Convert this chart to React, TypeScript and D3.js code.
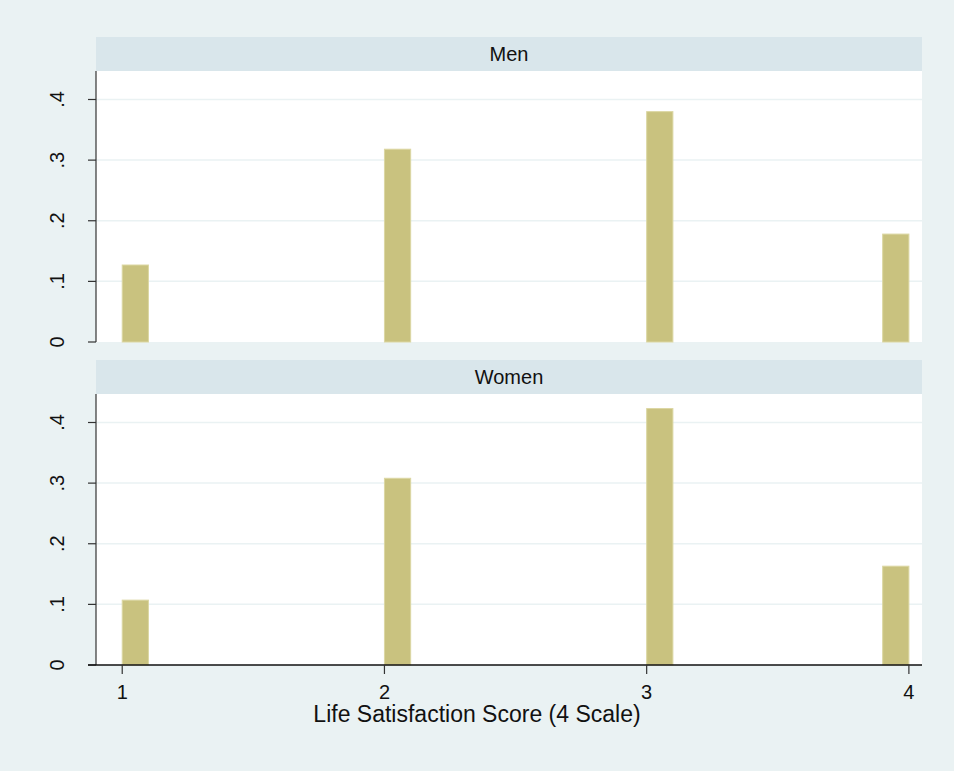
import React from "react";
import * as d3 from "d3";

const scores = [1, 2, 3, 4];
const binLeft = [1, 2, 3, 3.9];
const binWidth = 0.1;
const menValues = [0.127, 0.318, 0.38, 0.178];
const womenValues = [0.107, 0.308, 0.423, 0.163];
const yTicks = [0, 0.1, 0.2, 0.3, 0.4];
const yTickLabels = ["0", ".1", ".2", ".3", ".4"];
const panels = [
  { title: "Men", values: menValues },
  { title: "Women", values: womenValues },
];

const W = 954;
const H = 771;
const left = 96;
const right = 922;
const stripH = 34;
const panelTops = [37, 360];
const plotH = 271;
const font = "Liberation Sans, Arial, Helvetica, sans-serif";

export default function App() {
  const x = d3.scaleLinear().domain([0.9, 4.05]).range([left, right]);
  return (
    <svg
      width={W}
      height={H}
      style={{ position: "absolute", left: 0, top: 0 }}
      fontFamily={font}
    >
      <rect x={0} y={0} width={W} height={H} fill="#eaf2f3" />
      {panels.map((p, pi) => {
        const top = panelTops[pi];
        const plotTop = top + stripH;
        const plotBottom = plotTop + plotH;
        const y = d3.scaleLinear().domain([0, 0.447]).range([plotBottom, plotTop]);
        const isLast = pi === panels.length - 1;
        return (
          <g key={p.title}>
            <rect x={left} y={top} width={right - left} height={stripH} fill="#d9e6eb" />
            <text
              x={(left + right) / 2}
              y={top + stripH / 2 + 7}
              textAnchor="middle"
              fontSize={20}
              fill="#111"
            >
              {p.title}
            </text>
            <rect x={left} y={plotTop} width={right - left} height={plotH} fill="#ffffff" />
            {yTicks.filter((t) => t > 0).map((t) => (
              <line
                key={t}
                x1={left}
                x2={right}
                y1={y(t)}
                y2={y(t)}
                stroke="#eaf2f3"
                strokeWidth={1.5}
              />
            ))}
            {p.values.map((v, i) => (
              <rect
                key={i}
                x={x(binLeft[i])}
                y={y(v)}
                width={x(binLeft[i] + binWidth) - x(binLeft[i])}
                height={y(0) - y(v)}
                fill="#c9c27f"
                stroke="#dcd7a3"
                strokeWidth={1}
              />
            ))}
            <line x1={left} x2={left} y1={plotTop} y2={plotBottom} stroke="#333" strokeWidth={1.2} />
            {yTicks.map((t, i) => (
              <g key={t}>
                <line x1={left - 8} x2={left} y1={y(t)} y2={y(t)} stroke="#333" strokeWidth={1.2} />
                <text
                  transform={`translate(${64},${y(t)}) rotate(-90)`}
                  textAnchor="middle"
                  fontSize={20}
                  fill="#111"
                >
                  {yTickLabels[i]}
                </text>
              </g>
            ))}
            {isLast && (
              <g>
                <line x1={left - 8} x2={right} y1={plotBottom} y2={plotBottom} stroke="#111" strokeWidth={1.5} />
                {scores.map((s) => (
                  <g key={s}>
                    <line x1={x(s)} x2={x(s)} y1={plotBottom} y2={plotBottom + 9} stroke="#333" strokeWidth={1.2} />
                    <text x={x(s)} y={plotBottom + 34} textAnchor="middle" fontSize={20} fill="#111">
                      {s}
                    </text>
                  </g>
                ))}
                <text
                  x={W / 2}
                  y={plotBottom + 57}
                  textAnchor="middle"
                  fontSize={23}
                  fill="#111"
                >
                  Life Satisfaction Score (4 Scale)
                </text>
              </g>
            )}
          </g>
        );
      })}
    </svg>
  );
}
